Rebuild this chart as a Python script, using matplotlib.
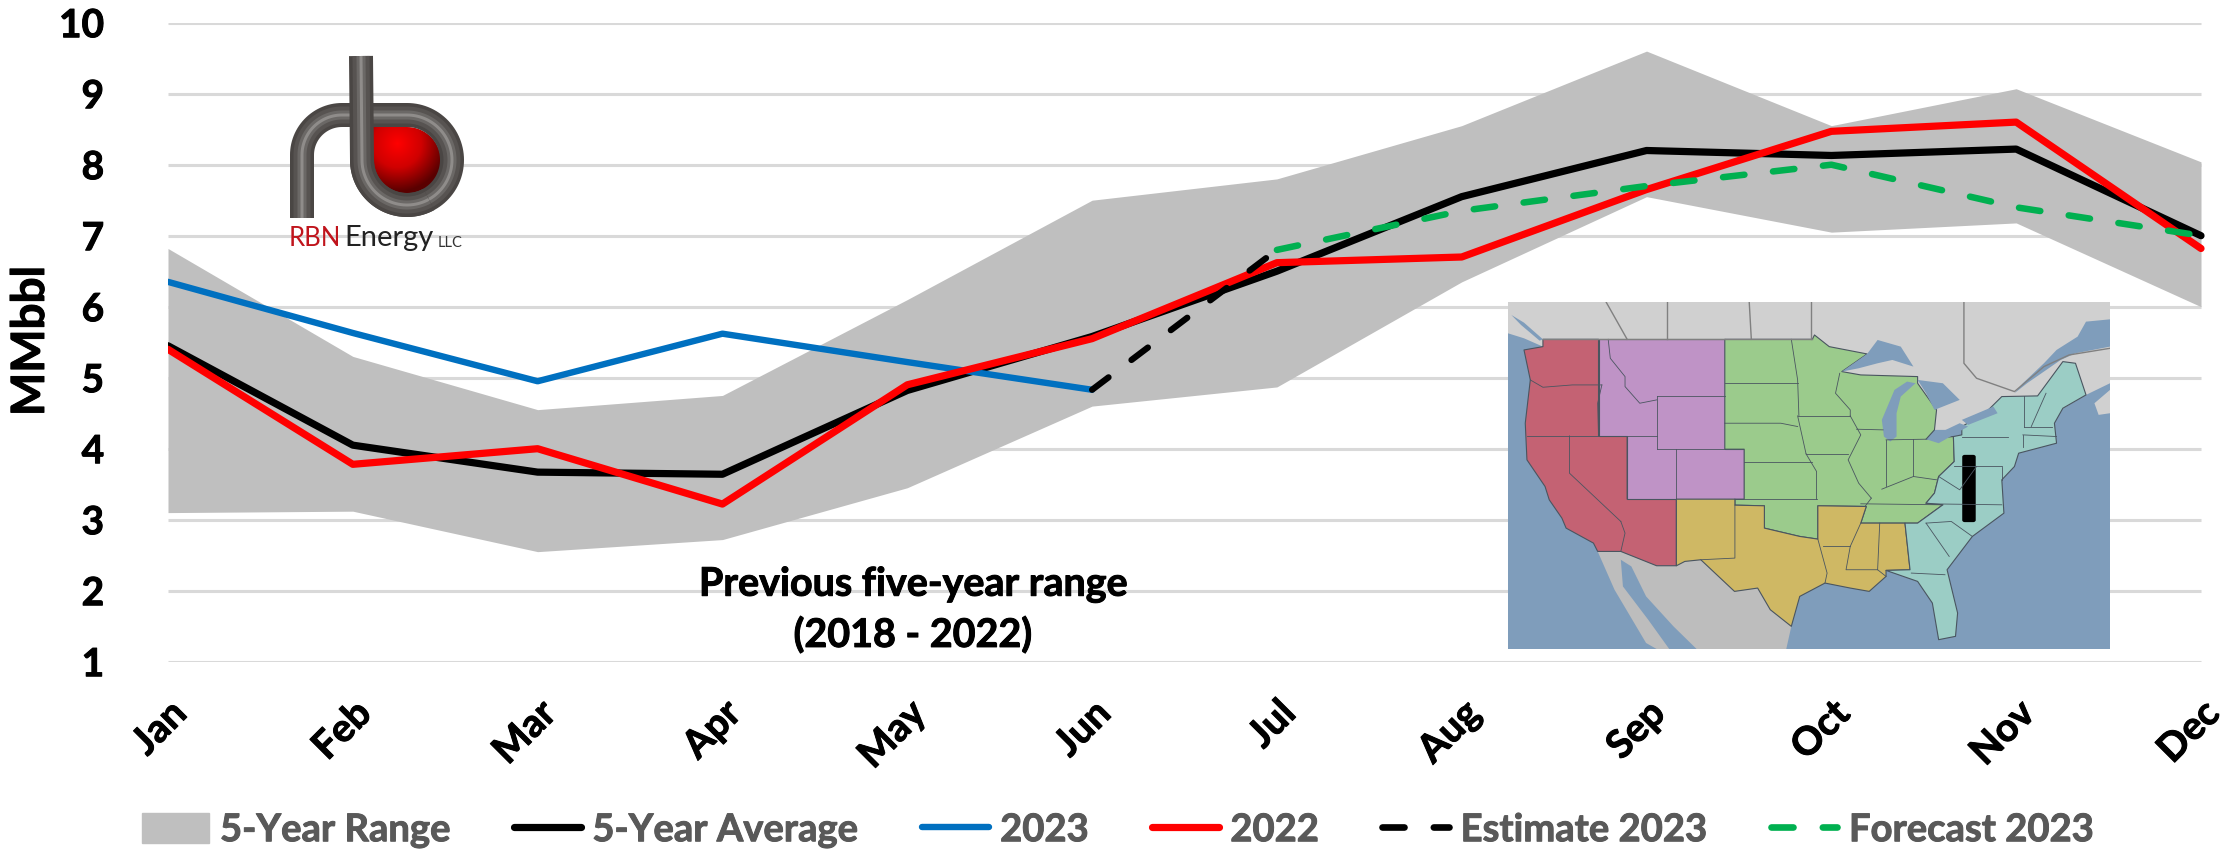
import numpy as np
import matplotlib
matplotlib.use("Agg")
import matplotlib.pyplot as plt
import matplotlib.patheffects as pe
from matplotlib.colors import LinearSegmentedColormap
from matplotlib.lines import Line2D
from matplotlib.patches import FancyBboxPatch, Patch, Polygon
from matplotlib.transforms import ScaledTranslation

plt.rcParams['font.family'] = ['Lato', 'DejaVu Sans']

W, H = 2228, 851

months = ["Jan", "Feb", "Mar", "Apr", "May", "Jun", "Jul", "Aug", "Sep", "Oct", "Nov", "Dec"]
range_high = [6.82, 5.30, 4.55, 4.75, 6.10, 7.50, 7.80, 8.55, 9.60, 8.55, 9.07, 8.04]
range_low = [3.10, 3.12, 2.55, 2.72, 3.45, 4.60, 4.87, 6.35, 7.55, 7.05, 7.18, 6.00]
avg_5yr = [5.45, 4.05, 3.67, 3.64, 4.82, 5.58, 6.50, 7.55, 8.20, 8.13, 8.22, 7.00]
y2022 = [5.40, 3.78, 4.00, 3.22, 4.90, 5.55, 6.62, 6.70, 7.65, 8.47, 8.60, 6.82]
y2023 = [6.35, 5.63, 4.95, 5.62, 5.22, 4.83]
estimate_2023 = [4.83, 6.80]
forecast_2023 = [6.80, 7.35, 7.70, 8.00, 7.40, 7.00]
yticks = [1, 2, 3, 4, 5, 6, 7, 8, 9, 10]

# map shapes, in map picture coordinates
canada = [(67, 66), (1497, 66), (1497, 400), (1470, 405), (1460, 370), (1497, 330), (1497, 310),
          (1440, 345), (1300, 450), (300, 450), (150, 200), (105, 175), (67, 160)]
mexico = [(280, 815), (335, 815), (420, 858), (467, 858), (487, 845), (525, 840), (605, 935),
          (660, 925), (690, 990), (740, 1040), (728, 1108), (420, 1108), (395, 1090), (320, 930)]
gulf_california = [(335, 840), (360, 860), (395, 950), (460, 1040), (515, 1108), (450, 1108), (400, 1020), (340, 920)]
lakes = [
    [(860, 275), (920, 222), (945, 180), (1000, 200), (1030, 260), (980, 240), (945, 250), (900, 265)],
    [(960, 470), (955, 420), (985, 330), (1015, 305), (1035, 310), (1000, 350), (990, 400), (990, 470), (975, 485)],
    [(1040, 300), (1100, 310), (1140, 360), (1100, 380), (1080, 390), (1060, 340)],
    [(1060, 478), (1140, 430), (1160, 440), (1090, 490)],
    [(1145, 420), (1220, 380), (1230, 400), (1160, 435)],
    [(1497, 118), (1440, 125), (1420, 170), (1370, 210), (1340, 250), (1290, 310), (1270, 340),
     (1300, 310), (1380, 240), (1415, 220), (1497, 200)],
    [(75, 105), (105, 128), (150, 178), (142, 182), (98, 135)],
]
padd5 = [(150, 178), (282, 178), (282, 468), (350, 468), (350, 658), (467, 658), (467, 858), (420, 858),
         (335, 815), (280, 815), (270, 790), (205, 745), (195, 715), (165, 660), (155, 620), (112, 540),
         (108, 430), (120, 300), (105, 210), (150, 200)]
padd4 = [(282, 178), (582, 178), (582, 508), (628, 508), (628, 658), (350, 658), (350, 468), (282, 468)]
padd2 = [(582, 178), (790, 178), (795, 165), (830, 200), (920, 222), (860, 275), (905, 285), (1040, 290),
         (1040, 310), (1085, 390), (1080, 450), (1060, 478), (1125, 470), (1127, 545), (1090, 590), (1080, 640),
         (1060, 670), (1100, 675), (1040, 730), (905, 730), (918, 680), (803, 678), (803, 778), (760, 770),
         (676, 745), (676, 678), (606, 676), (606, 658), (628, 658), (628, 508), (582, 508)]
padd3 = [(467, 658), (606, 658), (606, 676), (676, 678), (676, 745), (760, 770), (803, 778), (803, 678),
         (918, 680), (905, 730), (1010, 730), (1022, 870), (965, 872), (965, 890), (925, 935), (880, 925),
         (820, 910), (760, 950), (740, 1040), (690, 990), (660, 925), (605, 935), (525, 840), (487, 845), (467, 858)]
padd1 = [(1127, 545), (1125, 470), (1145, 465), (1145, 440), (1200, 400), (1240, 350), (1325, 348), (1385, 245),
         (1415, 250), (1440, 345), (1385, 385), (1365, 430), (1370, 490), (1280, 520), (1270, 560), (1240, 600),
         (1245, 700), (1170, 770), (1110, 870), (1135, 1000), (1130, 1070), (1090, 1080), (1075, 970), (1040, 905),
         (965, 872), (1022, 870), (1010, 730), (1040, 730), (1100, 675), (1060, 670), (1080, 640), (1090, 590)]
state_lines = [
    [(582, 308), (755, 308)], [(582, 430), (715, 430), (755, 440)], [(628, 547), (790, 547)],
    [(606, 658), (800, 658)], [(740, 178), (755, 300), (758, 408)], [(755, 408), (880, 408)],
    [(855, 280), (845, 340), (880, 390), (880, 408)], [(755, 408), (775, 522)], [(775, 522), (875, 522)],
    [(800, 658), (800, 575), (775, 522)], [(880, 408), (905, 465), (875, 540), (900, 610), (930, 655)],
    [(895, 448), (958, 450)], [(965, 480), (965, 620)], [(1028, 478), (1028, 590)], [(965, 480), (1060, 478)],
    [(955, 628), (1030, 590), (1085, 600)], [(905, 672), (1100, 675)], [(930, 655), (915, 680)],
    [(606, 676), (606, 835), (525, 840)], [(815, 800), (880, 800)], [(803, 778), (825, 880), (820, 910)],
    [(905, 730), (880, 800), (870, 870), (945, 870), (965, 890)], [(950, 730), (945, 870)],
    [(120, 300), (150, 322), (220, 315), (290, 315)], [(112, 468), (350, 468)],
    [(213, 468), (213, 580), (335, 725)], [(335, 725), (345, 760), (335, 815)],
    [(305, 178), (310, 235), (345, 290), (345, 320), (380, 370), (420, 360)], [(420, 348), (420, 508)],
    [(420, 348), (582, 348)], [(420, 508), (582, 508)], [(350, 468), (420, 468)], [(467, 508), (467, 658)],
    [(290, 315), (280, 370), (282, 468)], [(1145, 470), (1255, 470)], [(1127, 557), (1240, 557)],
    [(1060, 672), (1240, 675)], [(1060, 730), (1120, 725), (1170, 770)], [(1060, 730), (1115, 830)],
    [(1025, 880), (1105, 885)], [(1090, 590), (1140, 630), (1180, 560)], [(1292, 348), (1292, 440)],
    [(1345, 340), (1310, 440)], [(1292, 440), (1360, 440)], [(1290, 465), (1370, 470)], [(1290, 465), (1290, 500)],
    [(1240, 560), (1240, 600)],
]
border_lines = [
    [(300, 66), (350, 178)], [(445, 66), (445, 178)], [(640, 66), (645, 178)], [(787, 66), (787, 178)],
    [(150, 178), (790, 178)], [(1150, 66), (1150, 250), (1180, 295), (1270, 335), (1340, 260), (1400, 225), (1497, 205)],
]

fig = plt.figure(figsize=(W / 100, H / 100), dpi=100, facecolor="white")
x_end = 11.02
ax = fig.add_axes([168 / W, 1 - 661.7 / H, (2201 + 0.02 * 184.8 - 168) / W, 639 / H])
x = np.arange(12)

# slight stroke so the text is as heavy as the original
heavy = [pe.withStroke(linewidth=0.7, foreground="black")]
heavy_grey = [pe.withStroke(linewidth=0.7, foreground="#595959")]

ax.hlines(yticks, 0, 11, color="#D9D9D9", lw=2.2, zorder=1)
ax.fill_between(x, range_low, range_high, color="#BFBFBF", lw=0, zorder=2, label="5-Year Range")
ax.plot(x, avg_5yr, color="black", lw=5.2, solid_capstyle="round", zorder=3)
ax.plot(x[:6], y2023, color="#0070C0", lw=4.6, solid_capstyle="round", zorder=4)
ax.plot(x, y2022, color="#FF0000", lw=5.2, solid_capstyle="round", zorder=5)
ax.plot(x[5:7], estimate_2023, color="black", lw=4.5, dashes=(3.3, 4.6), dash_capstyle="round", zorder=6)
ax.plot(x[6:], forecast_2023, color="#00B050", lw=4.7, dashes=(3.3, 4.4), dash_capstyle="round", zorder=7)

ax.set_xlim(0, x_end)
ax.set_ylim(1, 10)
ax.set_yticks(yticks)
ax.set_xticks(x)
ax.set_xticklabels(months, rotation=45, ha="right", va="top", rotation_mode="anchor",
                   fontsize=28, fontweight="bold")
shift = ScaledTranslation(-20 / 100, 3 / 100, fig.dpi_scale_trans)
for t in ax.get_xticklabels():
    t.set_transform(t.get_transform() + shift)
    t.set_path_effects(heavy)
ax.tick_params(axis="both", length=0)
ax.tick_params(axis="x", pad=24)
ax.tick_params(axis="y", pad=46, labelsize=28)
for t in ax.get_yticklabels():
    t.set_fontweight("bold")
    t.set_path_effects(heavy)
for s in ax.spines.values():
    s.set_visible(False)
fig.text(31 / W, 1 - 341 / H, "MMbbl", rotation=90, ha="center", va="center", fontsize=33, fontweight="bold",
         path_effects=heavy)
ax.text(4.03, 1.73, "Previous five-year range\n(2018 - 2022)", ha="center", va="center",
        fontsize=28.4, fontweight="bold", linespacing=1.5, zorder=8, path_effects=heavy)

handles = [
    Patch(color="#BFBFBF"),
    Line2D([], [], color="black", lw=5.2, solid_capstyle="round"),
    Line2D([], [], color="#0070C0", lw=4.6, solid_capstyle="round"),
    Line2D([], [], color="#FF0000", lw=5.2, solid_capstyle="round"),
    Line2D([], [], color="black", lw=4.8, dashes=(3.3, 4.4), dash_capstyle="round"),
    Line2D([], [], color="#00B050", lw=4.8, dashes=(3.3, 4.4), dash_capstyle="round"),
]
labels = ["5-Year Range", "5-Year Average", "2023", "2022", "Estimate 2023", "Forecast 2023"]
leg = fig.legend(handles, labels, loc="center", bbox_to_anchor=(1118 / W, 1 - 830 / H), ncol=6, frameon=False,
                 prop={"size": 27.5, "weight": "bold"}, labelcolor="#595959", handlelength=1.75,
                 handleheight=0.85, handletextpad=0.3, columnspacing=1.65, borderpad=0)
for t in leg.get_texts():
    t.set_path_effects(heavy_grey)

# map inset
mp = fig.add_axes([1508 / W, 1 - 649 / H, 602 / W, 347 / H], zorder=5)
mp.set_xlim(67, 1497)
mp.set_ylim(1108, 66)
mp.set_facecolor("#7F9DBB")
mp.set_xticks([])
mp.set_yticks([])
for s in mp.spines.values():
    s.set_visible(False)
mp.add_patch(Polygon(canada, fc="#D0D0D0", ec="none"))
mp.add_patch(Polygon(mexico, fc="#BDBDBD", ec="none"))
mp.add_patch(Polygon(gulf_california, fc="#7F9DBB", ec="none"))
for shape, col in [(padd5, "#C46273"), (padd4, "#BF93C6"), (padd2, "#9BCB8C"), (padd3, "#CFB864"), (padd1, "#9BCDC5")]:
    mp.add_patch(Polygon(shape, fc=col, ec="#4A5560", lw=0.8, joinstyle="round"))
for lake in lakes:
    mp.add_patch(Polygon(lake, fc="#7F9DBB", ec="none"))
for seg in state_lines:
    xs, ys = zip(*seg)
    mp.plot(xs, ys, color="#4A5560", lw=0.6)
for seg in border_lines:
    xs, ys = zip(*seg)
    mp.plot(xs, ys, color="#808080", lw=1.0)
mp.add_patch(FancyBboxPatch((1150, 529), 24, 194, boxstyle="round,pad=4,rounding_size=6", fc="black", ec="none"))

# logo, drawn in figure pixels
lg = fig.add_axes([0, 0, 1, 1], zorder=6)
lg.patch.set_alpha(0)
lg.axis("off")

yy, xx = np.mgrid[120:200, 368:445]
dist = np.hypot(xx - 397, yy - 143) / 48
reds = LinearSegmentedColormap.from_list("ball", ["#FF0000", "#D00000", "#5A0000"])
ball = lg.imshow(dist, extent=(368, 445, 200, 120), cmap=reds, vmin=0, vmax=1, aspect="auto", zorder=1)
ang = np.linspace(-np.pi / 2, np.pi, 60)
outline = list(zip(407 + 34 * np.cos(ang), 161 + 34 * np.sin(ang))) + [(373, 127)]
clip = Polygon(outline, transform=lg.transData, fc="none", ec="none")
lg.add_patch(clip)
ball.set_clip_path(clip)

ang = np.linspace(np.pi, 0, 60)
bowl_x = 407 + 45 * np.cos(ang)
bowl_y = 160 + 45 * np.sin(ang)
ang2 = np.linspace(-np.pi / 2, -np.pi, 30)
arm_x = 342 + 40 * np.cos(ang2)
arm_y = 155 + 40 * np.sin(ang2)
ang3 = np.linspace(0, -np.pi / 2, 30)
top_x = 407 + 45 * np.cos(ang3)
top_y = 160 + 45 * np.sin(ang3)
pipe_back = (np.r_[bowl_x, top_x, arm_x, 302], np.r_[bowl_y, top_y, arm_y, 218])
pipe_front = (np.r_[361, bowl_x[:40]], np.r_[56, bowl_y[:40]])
for px, py in [pipe_back, pipe_front]:
    for w, c in [(24, "#4A4644"), (17, "#575351"), (9, "#6B6866"), (3, "#8F8C8A")]:
        lg.plot(px, py, color=c, lw=w * 0.72, solid_capstyle="butt", solid_joinstyle="round", zorder=2)

lg.text(289, 238, "RBN", color="#C0141C", fontsize=18.5, va="center", ha="left", family="Lato")
lg.text(344, 238, "Energy", color="#222222", fontsize=21, va="center", ha="left", family="Lato")
lg.text(438, 243, "LLC", color="#333333", fontsize=10.5, va="center", ha="left", family="Lato")
lg.set_xlim(0, W)
lg.set_ylim(H, 0)

fig.savefig("out.png", dpi=100)
